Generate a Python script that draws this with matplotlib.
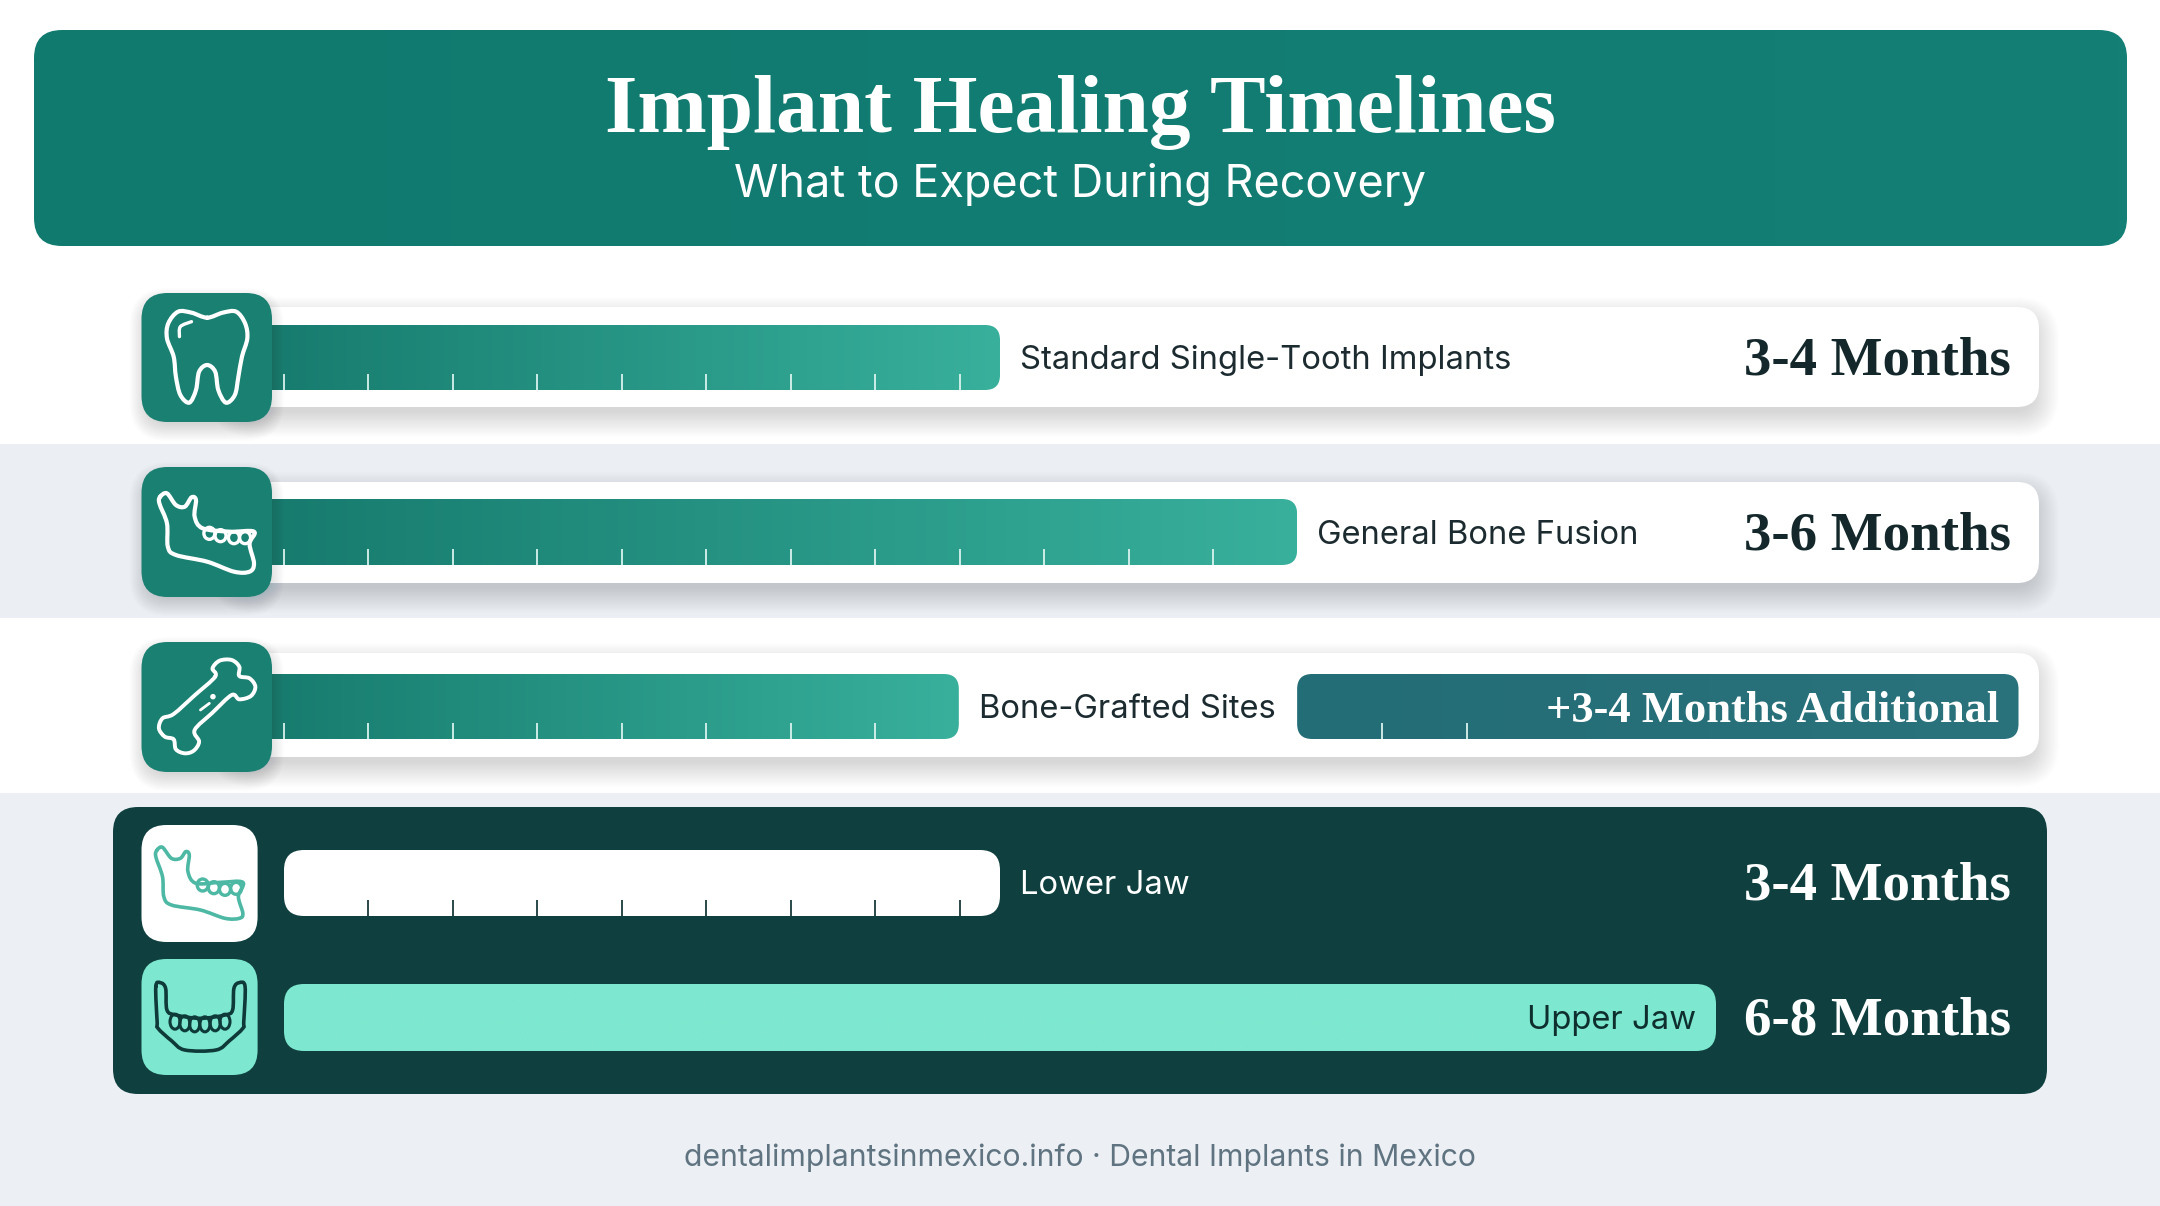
"""
Implant healing timelines: horizontal duration bars on a pixel-laid-out card design.
"""

import numpy as np
import matplotlib
matplotlib.use("Agg")
import matplotlib.pyplot as plt
from matplotlib.colors import to_rgb
from matplotlib.patches import FancyBboxPatch, Ellipse, Rectangle, PathPatch
from matplotlib.path import Path

# data, in months on the shared scale behind the bars
row_labels = ["Standard Single-Tooth Implants", "General Bone Fusion", "Bone-Grafted Sites"]
row_durations = ["3-4 Months", "3-6 Months", None]
row_bar_months = [4.0, 5.66, 3.77]
row_tick_ids = [list(range(0, 9)), list(range(0, 12)), list(range(0, 8))]

extra_label = "+3-4 Months Additional"
extra_start = 5.66
extra_end = 9.69
extra_tick_ids = [13, 14]

jaw_labels = ["Lower Jaw", "Upper Jaw"]
jaw_durations = ["3-4 Months", "6-8 Months"]
jaw_bar_months = [4.0, 8.0]
jaw_tick_ids = list(range(1, 9))

tick_step = 0.472

W, H = 2160, 1206
X0, PX_PER_MONTH = 284, 179.0

TEAL = "#1A8072"
DARK = "#0F403F"
MINT = "#7DE8CF"
SANS = "Inter"
SERIF = "Liberation Serif"

fig = plt.figure(figsize=(W / 100, H / 100), dpi=100, facecolor="white")

# three stacked layers: backgrounds, bars in months, icons and text
bg = fig.add_axes([0, 0, 1, 1], zorder=1)
bx = fig.add_axes([0, 0, 1, 1], zorder=2)
fg = fig.add_axes([0, 0, 1, 1], zorder=3)
for ax in (bg, fg):
    ax.set_xlim(0, W)
    ax.set_ylim(H, 0)
bx.set_xlim(-X0 / PX_PER_MONTH, (W - X0) / PX_PER_MONTH)
bx.set_ylim(H, 0)
bx.set_autoscale_on(False)
for ax in (bg, bx, fg):
    ax.axis("off")
    ax.patch.set_alpha(0)


def mx(months):
    # months -> pixel column, through the bar axes
    return bx.transData.transform((months, 0))[0]


def rbox(ax, x0, y0, x1, y1, r, **kw):
    p = FancyBboxPatch((x0, y0), x1 - x0, y1 - y0,
                       boxstyle=f"round,pad=0,rounding_size={r}",
                       transform=ax.transData, linewidth=0, **kw)
    ax.add_patch(p)
    return p


def shadow(ax, x0, y0, x1, y1, r, dy=10, spread=26, alpha=0.006, n=20):
    for i in range(n):
        g = spread * (1 - i / n) - 6
        rbox(ax, x0 - g, y0 - g + dy, x1 + g, y1 + g + dy, r + max(g, 0),
             facecolor="#26404A", alpha=alpha)


def gradient(c0, c1):
    a, b = np.array(to_rgb(c0)), np.array(to_rgb(c1))
    t = np.linspace(0, 1, 256)[:, None]
    return (a + (b - a) * t)[None, :, :]


def grad_bar(left, right, y0, y1, c0, c1, r=15):
    # bar in months; the image sits on the month scale, clipped to a rounded box
    im = bx.imshow(gradient(c0, c1), extent=(left, right, y1, y0), aspect="auto",
                   interpolation="bilinear", zorder=2)
    clip = FancyBboxPatch((mx(left), y0), mx(right) - mx(left), y1 - y0,
                          boxstyle=f"round,pad=0,rounding_size={r}",
                          transform=bg.transData, linewidth=0)
    im.set_clip_path(clip)
    return im


def ticks(ids, y1, color):
    bx.vlines(np.array(ids) * tick_step, y1 - 16, y1, color=color, linewidth=1.3, zorder=3)


def smooth(points, closed=True):
    # catmull-rom through the outline points
    p = np.array(points, dtype=float)
    n = len(p)
    verts, codes = [p[0]], [Path.MOVETO]
    last = n if closed else n - 1
    for i in range(last):
        p0 = p[(i - 1) % n] if closed or i > 0 else p[i]
        p1, p2 = p[i], p[(i + 1) % n]
        p3 = p[(i + 2) % n] if closed or i + 2 < n else p2
        verts += [p1 + (p2 - p0) / 6, p2 - (p3 - p1) / 6, p2]
        codes += [Path.CURVE4] * 3
    return Path(verts, codes)


def outline(points, ox, oy, sx, sy, color, lw=3.0, closed=True):
    pts = [(ox + x / sx, oy + y / sy) for x, y in points]
    fg.add_patch(PathPatch(smooth(pts, closed), fill=False, edgecolor=color, linewidth=lw,
                           joinstyle="round", capstyle="round"))


def teeth(points, ox, oy, sx, sy, color, rw=11, rh=12, lw=2.4):
    for x, y in points:
        fg.add_patch(Ellipse((ox + x / sx, oy + y / sy), rw, rh, fill=False,
                             edgecolor=color, linewidth=lw))


# page background
bg.add_patch(Rectangle((0, 444), W, 174, facecolor="#EBEEF3", linewidth=0))
bg.add_patch(Rectangle((0, 793), W, H - 793, facecolor="#ECEFF4", linewidth=0))

# header
head = rbox(bg, 34, 30, 2127, 246, 28, facecolor="none")
im = bg.imshow(gradient("#117A6F", "#137F75"), extent=(34, 2127, 246, 30), aspect="auto", zorder=1)
im.set_clip_path(head)
bg.set_xlim(0, W)
bg.set_ylim(H, 0)
fg.text(1080, 113, "Implant Healing Timelines", color="white", fontsize=60, fontweight="bold",
        family=SERIF, ha="center", va="center")
fg.text(1080, 184, "What to Expect During Recovery", color="white", fontsize=32.4,
        family=SANS, ha="center", va="center")

# white cards and their icons
row_y = [(325, 390), (499, 565), (674, 739)]
card_y = [(307, 407), (482, 583), (653, 757)]
icon_y = [(293, 422), (467, 597), (642, 772)]
for (c0, c1) in card_y:
    shadow(bg, 230, c0, 2039, c1, 22)
    rbox(bg, 230, c0, 2039, c1, 22, facecolor="white", zorder=3)

for i, (y0, y1) in enumerate(row_y):
    grad_bar(-0.2, row_bar_months[i], y0, y1, "#167A6D", "#38B09C")
    ticks(row_tick_ids[i], y1, "#D9F3EE")
    fg.text(mx(row_bar_months[i]) + 20, (y0 + y1) / 2 + 3, row_labels[i], color="#1C2B30",
            fontsize=23.6, family=SANS, ha="left", va="center")
    if row_durations[i]:
        fg.text(2011, (y0 + y1) / 2 + 4, row_durations[i], color="#14282C", fontsize=39.5,
                fontweight="bold", family=SERIF, ha="right", va="center")
for (y0, y1) in icon_y:
    shadow(fg, 141.5, y0, 272, y1, 26, dy=7, spread=18, alpha=0.009)
    rbox(fg, 141.5, y0, 272, y1, 26, facecolor=TEAL)

# extra healing on the grafted row
grad_bar(extra_start, extra_end, 674, 739, "#236D77", "#2A727C")
ticks(extra_tick_ids, 739, "#D9F3EE")
fg.text(1999, 710.5, extra_label, color="white", fontsize=32, fontweight="bold",
        family=SERIF, ha="right", va="center")

# dark panel
rbox(bg, 113, 807, 2047, 1094, 25, facecolor=DARK, zorder=4)
jaw_y = [(850, 916), (984, 1051)]
jaw_colors = ["white", MINT]
jaw_text = ["white", "#0F2F2F"]
for i, (y0, y1) in enumerate(jaw_y):
    grad_bar(0, jaw_bar_months[i], y0, y1, jaw_colors[i], jaw_colors[i], r=20)
    fg.text(2011, (y0 + y1) / 2 + 4, jaw_durations[i], color="white", fontsize=39.5,
            fontweight="bold", family=SERIF, ha="right", va="center")
ticks(jaw_tick_ids, 916, "#1A3A3A")
fg.text(mx(jaw_bar_months[0]) + 20, 886, jaw_labels[0], color="white", fontsize=23.6,
        family=SANS, ha="left", va="center")
fg.text(mx(jaw_bar_months[1]) - 20, 1020, jaw_labels[1], color=jaw_text[1], fontsize=23.6,
        family=SANS, ha="right", va="center")
rbox(fg, 141.5, 825, 257.6, 942, 25, facecolor="white")
rbox(fg, 141.5, 959, 257.6, 1075, 25, facecolor=MINT)

# icon outlines
SX, SY = 2.24, 3.0
tooth = [(240, 143), (205, 128), (175, 125), (153, 160), (150, 205), (165, 260), (170, 320),
         (180, 375), (200, 398), (215, 360), (222, 305), (240, 285), (258, 305), (265, 360),
         (282, 398), (302, 375), (310, 320), (318, 260), (330, 205), (325, 160), (305, 125),
         (275, 128)]
outline(tooth, 100, 270, SX, SY, "white")
outline([(178, 200), (180, 170), (205, 155)], 100, 270, SX, SY, "white", lw=2.4, closed=False)

jaw_side = [(135, 680), (150, 670), (170, 705), (190, 710), (205, 682), (215, 690), (212, 740),
            (230, 775), (290, 785), (345, 785), (335, 822), (345, 880), (335, 905), (300, 905),
            (240, 875), (170, 855), (152, 830), (150, 760), (133, 700)]
outline(jaw_side, 100, 270, SX, SY, "white")
teeth([(245, 790), (270, 797), (300, 803), (325, 803)], 100, 270, SX, SY, "white")

bone = [(258, 170), (252, 145), (268, 122), (295, 120), (312, 140), (312, 168), (335, 175),
        (348, 200), (338, 228), (312, 238), (295, 225), (252, 278), (212, 330), (222, 365),
        (210, 392), (190, 400), (170, 388), (165, 358), (145, 350), (132, 325), (140, 295),
        (165, 282), (212, 226)]
outline(bone, 100, 620, SX, SY, "white", lw=2.8)
outline([(225, 270), (245, 250)], 100, 620, SX, SY, "white", lw=2.0, closed=False)
teeth([(253, 230)], 100, 620, SX, SY, "white", rw=3, rh=3, lw=1.8)

jaw_lower = [(128, 690), (140, 682), (160, 715), (180, 715), (192, 695), (200, 705), (197, 755),
             (215, 790), (270, 787), (320, 787), (310, 830), (320, 880), (312, 895), (280, 895),
             (225, 870), (160, 855), (143, 830), (140, 770), (125, 710)]
outline(jaw_lower, 100, 620, SX, SY, "#4DB8A4", lw=2.6)
teeth([(230, 795), (255, 803), (280, 808), (305, 805)], 100, 620, SX, SY, "#4DB8A4")

jaw_front = [(125, 1100), (135, 1088), (147, 1105), (150, 1170), (170, 1185), (224, 1195),
             (280, 1185), (297, 1170), (300, 1105), (312, 1088), (325, 1100), (322, 1205),
             (320, 1225), (290, 1262), (260, 1290), (190, 1290), (160, 1262), (130, 1225),
             (128, 1205)]
outline(jaw_front, 100, 620, SX, SY, "#0F3A3A", lw=2.6)
teeth([(168, 1205), (190, 1210), (212, 1213), (235, 1213), (258, 1210), (280, 1205)],
      100, 620, SX, SY, "#0F3A3A", rw=10, rh=15, lw=2.2)

# footer
fg.text(1080, 1158, "dentalimplantsinmexico.info · Dental Implants in Mexico", color="#5F7480",
        fontsize=21.7, family=SANS, ha="center", va="center")

fig.savefig("out.png", dpi=100, facecolor="white")
plt.close(fig)
